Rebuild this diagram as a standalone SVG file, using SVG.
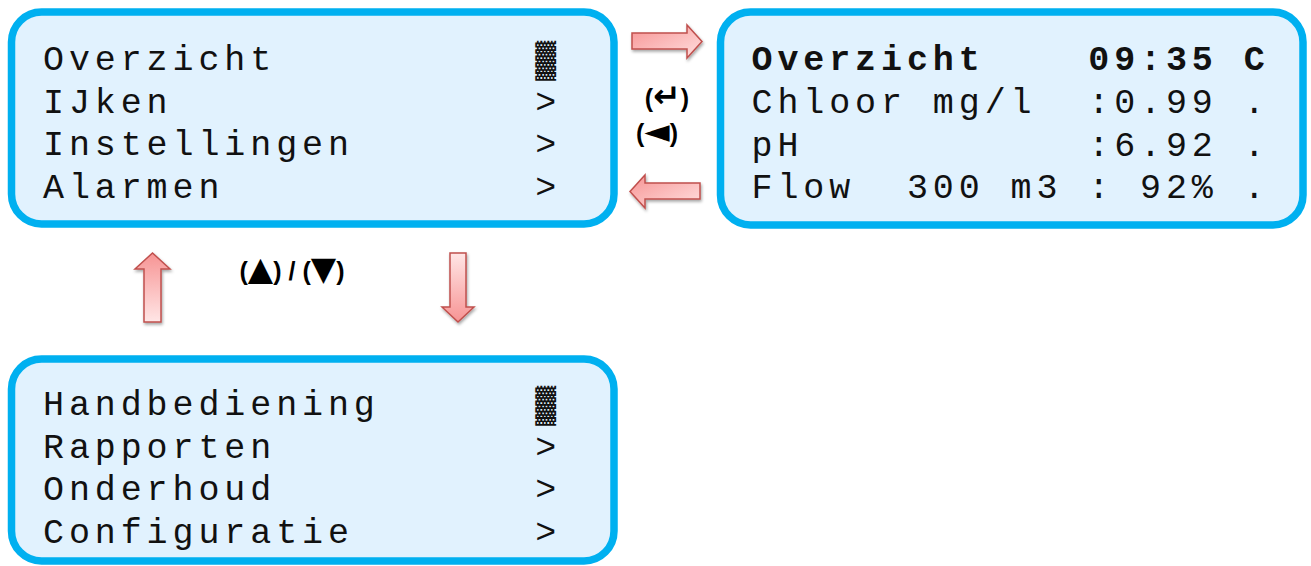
<svg xmlns="http://www.w3.org/2000/svg" width="1311" height="566" viewBox="0 0 1311 566">
<defs>
<style>
.box{fill:#E1F2FE;stroke:#00B0F0;stroke-width:7.5}
.lcd{font-family:"Liberation Mono","Courier New",monospace;font-size:35px;letter-spacing:4.9px;fill:#111}
.b{font-weight:bold}
.lbl{font-family:"Liberation Sans",Arial,"DejaVu Sans",sans-serif;font-size:25px;font-weight:bold;fill:#000;text-anchor:middle}
.sym{font-family:"DejaVu Sans",sans-serif;font-size:33px}
.arr{stroke:#C0504D;stroke-width:1.5;filter:url(#sh)}
</style>
<linearGradient id="gUp" x1="0" y1="0" x2="0" y2="1"><stop offset="0" stop-color="#F79494"/><stop offset="1" stop-color="#FFE6E6"/></linearGradient>
<linearGradient id="gDown" x1="0" y1="1" x2="0" y2="0"><stop offset="0" stop-color="#F79494"/><stop offset="1" stop-color="#FFE6E6"/></linearGradient>
<linearGradient id="gRight" x1="0" y1="0" x2="1" y2="1"><stop offset="0" stop-color="#F79494"/><stop offset="1" stop-color="#FFE0E0"/></linearGradient>
<linearGradient id="gLeft" x1="0" y1="0" x2="1" y2="1"><stop offset="0" stop-color="#F79494"/><stop offset="1" stop-color="#FFE0E0"/></linearGradient>
<filter id="sh" x="-30%" y="-30%" width="160%" height="160%"><feDropShadow dx="1" dy="2" stdDeviation="1.5" flood-color="#000" flood-opacity="0.35"/></filter>
</defs>

<g id="menu1">
<rect class="box" x="11.5" y="12" width="602.5" height="212" rx="30"/>
<text class="lcd" xml:space="preserve" x="43" y="70">Overzicht          ▓</text>
<text class="lcd" xml:space="preserve" x="43" y="112.5">IJken              &gt;</text>
<text class="lcd" xml:space="preserve" x="43" y="155">Instellingen       &gt;</text>
<text class="lcd" xml:space="preserve" x="43" y="197.5">Alarmen            &gt;</text>
</g>

<g id="overview">
<rect class="box" x="720.5" y="12" width="582.5" height="213" rx="30"/>
<text class="lcd b" xml:space="preserve" x="751.5" y="70">Overzicht    09:35 C</text>
<text class="lcd" xml:space="preserve" x="751.5" y="113">Chloor mg/l  :0.99 .</text>
<text class="lcd" xml:space="preserve" x="751.5" y="156">pH           :6.92 .</text>
<text class="lcd" xml:space="preserve" x="751.5" y="198">Flow  300 m3 : 92% .</text>
</g>

<g id="menu2">
<rect class="box" x="11.5" y="359" width="602.5" height="202" rx="30"/>
<text class="lcd" xml:space="preserve" x="43" y="415">Handbediening      ▓</text>
<text class="lcd" xml:space="preserve" x="43" y="458">Rapporten          &gt;</text>
<text class="lcd" xml:space="preserve" x="43" y="500">Onderhoud          &gt;</text>
<text class="lcd" xml:space="preserve" x="43" y="543">Configuratie       &gt;</text>
</g>

<g id="connectors">
<path class="arr" fill="url(#gRight)" d="M632,33 H687 V25 L702,41.5 L687,58 V49 H632 Z"/>
<path class="arr" fill="url(#gLeft)" d="M700,183 H645 V175 L630,191.5 L645,208 V199 H700 Z"/>
<path class="arr" fill="url(#gUp)" d="M144,322 V269 H135 L152.5,253 L170,269 H161 V322 Z"/>
<path class="arr" fill="url(#gDown)" d="M450,253 H466 V307 H474 L458,322 L442,307 H450 Z"/>
</g>

<g id="labels">
<text class="lbl" x="667" y="107">(<tspan class="sym" font-weight="bold" font-size="42px">↵</tspan>)</text>
<text class="lbl" x="657" y="142">(<tspan class="sym">◄</tspan>)</text>
<text class="lbl" x="292" y="280">(<tspan class="sym">▲</tspan>) / (<tspan class="sym">▼</tspan>)</text>
</g>
</svg>
